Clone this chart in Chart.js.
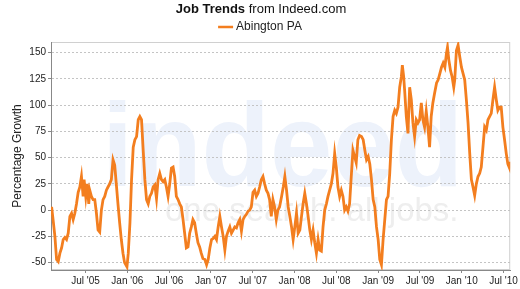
<!DOCTYPE html>
<html>
<head>
<meta charset="utf-8">
<script src="https://cdn.jsdelivr.net/npm/chart.js@4.4.1/dist/chart.umd.min.js"></script>
<style>
  html, body { margin: 0; padding: 0; background: #fff; }
</style>
</head>
<body>
<canvas id="myChart" width="520" height="289"></canvas>
<script>
// months since Jan 2005 (fractional) and percentage growth
var months = [
  1.05, 1.14, 1.38, 1.61, 1.85, 2.09, 2.33, 2.57, 2.80, 3.04, 3.28, 3.52,
  3.76, 4.00, 4.23, 4.47, 4.71, 4.95, 5.19, 5.42, 5.66, 5.80, 6.04, 6.23,
  6.47, 6.61, 6.85, 7.09, 7.33, 7.57, 7.80, 8.04, 8.28, 8.52, 8.76, 9.00,
  9.23, 9.47, 9.71, 9.95, 10.19, 10.42, 10.66, 10.90, 11.14, 11.38, 11.61, 11.95,
  12.14, 12.38, 12.61, 12.85, 13.09, 13.33, 13.57, 13.80, 14.04, 14.28,
  14.52, 14.76, 15.00, 15.23, 15.47, 15.71, 15.95, 16.19, 16.42, 16.66,
  16.90, 17.14, 17.38, 17.61, 17.85, 18.09, 18.33, 18.57, 18.80, 19.04,
  19.28, 19.52, 19.76, 20.00, 20.23, 20.47, 20.71, 20.95, 21.19, 21.42,
  21.66, 21.90, 22.14, 22.38, 22.61, 22.85,
  23.14, 23.38, 23.61, 23.85, 24.09, 24.33, 24.57, 24.80, 25.04, 25.28,
  25.52, 25.76, 26.00, 26.23, 26.47, 26.71, 26.95, 27.19, 27.42, 27.66,
  27.90, 28.14, 28.38, 28.61, 28.85, 29.09, 29.33, 29.57, 29.80, 30.04,
  30.28, 30.52, 30.76, 30.99, 31.23, 31.47, 31.71, 31.95, 32.19, 32.42,
  32.66, 32.90, 33.14, 33.38, 33.61, 33.85,
  34.14, 34.38, 34.61, 34.85, 35.09, 35.33, 35.57, 35.80, 36.04, 36.28,
  36.52, 36.76, 37.00, 37.23, 37.47, 37.71, 37.95, 38.19, 38.42, 38.66,
  38.90, 39.14, 39.38, 39.61, 39.85, 40.09, 40.33, 40.57, 40.80, 41.04,
  41.28, 41.52, 41.76, 41.99, 42.23, 42.47, 42.71, 42.95, 43.19, 43.42,
  43.66, 43.90, 44.14, 44.38, 44.61, 44.85,
  45.09, 45.33, 45.61, 45.85, 46.09, 46.33, 46.57, 46.80, 47.04, 47.28,
  47.52, 47.76, 48.00, 48.23, 48.47, 48.71, 48.95, 49.19, 49.42, 49.66,
  49.90, 50.14, 50.38, 50.61, 50.85, 51.09, 51.33, 51.47, 51.66, 51.80,
  52.04, 52.28, 52.52, 52.76, 52.99, 53.23, 53.47, 53.71, 53.95, 54.19,
  54.42, 54.66, 54.90, 55.14, 55.38, 55.61, 55.85, 56.09,
  56.38, 56.61, 56.85, 57.09, 57.33, 57.57, 57.80, 57.95, 58.14, 58.38,
  58.61, 58.85, 58.99, 59.23, 59.47, 59.71, 59.95, 60.19, 60.42, 60.66,
  60.90, 61.14, 61.38, 61.61, 61.85, 62.09, 62.33, 62.57, 62.80, 63.04,
  63.28, 63.52, 63.76, 63.99, 64.23, 64.47, 64.71, 64.95, 65.18, 65.42,
  65.66, 65.90, 66.14, 66.38, 66.61, 66.85, 66.95
];
var growth = [
  2, 3, -11, -25, -47, -49, -41, -36, -28, -26, -28, -22,
  -6, -3, -9, -3, 6, 17, 22, 32, 13, 29, 13, 25,
  6, 19, 13, 10, 10, -3, -19, -21, 0, 10, 13, 19,
  22, 25, 29, 48, 43, 25, 6, -12, -28, -41, -50, -54,
  -41, -12, 29, 60, 67, 70, 86, 89, 86, 57,
  29, 10, 6, 13, 16, 22, 24, 11, 29, 35,
  29, 27, 29, 22, 13, 25, 40, 41, 32, 13,
  10, 6, 3, -9, -22, -36, -35, -22, -16, -9,
  -12, -22, -31, -35, -41, -46,
  -47, -52, -47, -36, -28, -27, -25, -28, -16, -6,
  -16, -25, -38, -25, -20, -16, -22, -19, -16, -17,
  -12, -9, -20, -9, -6, -4, -1, 0, 3, 17,
  19, 13, 16, 22, 29, 32, 25, 19, 16, 10,
  -6, 10, 3, -9, 0, 3,
  13, 22, 32, 19, 3, -6, -16, -28, -16, -3,
  -22, -19, -6, 6, 16, 6, -6, -19, -28, -19,
  -31, -41, -28, -38, -39, -16, 0, 6, 13, 19,
  25, 35, 54, 41, 22, 13, 19, 13, 0, 3,
  -1, 6, 32, 57, 51, 45,
  67, 71, 70, 67, 57, 48, 51, 44, 29, 10,
  3, -16, -28, -47, -52, -28, -9, 10, 13, 35,
  67, 89, 95, 92, 98, 117, 127, 138, 127, 114,
  89, 73, 117, 105, 83, 70, 86, 83, 86, 102,
  86, 79, 94, 79, 60, 89, 102, 111,
  121, 124, 130, 136, 140, 136, 149, 155, 143, 133,
  127, 117, 124, 152, 157, 146, 136, 130, 124, 105,
  83, 54, 29, 22, 14, 25, 32, 35, 41, 60,
  79, 76, 86, 89, 92, 105, 117, 105, 95, 98,
  98, 79, 67, 54, 44, 40, 46
];
var tickMonths = [6, 12, 18, 24, 30, 36, 42, 48, 54, 60, 66];
var tickLabels = ["Jul '05", "Jan '06", "Jul '06", "Jan '07", "Jul '07", "Jan '08",
                  "Jul '08", "Jan '09", "Jul '09", "Jan '10", "Jul '10"];
var yTicks = [-50, -25, 0, 25, 50, 75, 100, 125, 150];
var seriesName = 'Abington PA';

var FONT = '"Liberation Sans", Arial, sans-serif';
var ORANGE = '#f37e1f';

var points = months.map(function (m, i) { return { x: m, y: growth[i] }; });

// faint indeed logo behind the plot + light frame
var backdrop = {
  id: 'backdrop',
  beforeDraw: function (chart) {
    var ctx = chart.ctx, a = chart.chartArea;
    ctx.save();
    ctx.fillStyle = '#edf2fb';
    ctx.font = 'bold 118px ' + FONT;
    ctx.translate(102, 186);
    ctx.scale(0.95, 1);
    ctx.fillText('indeed', 0, 0);
    ctx.restore();
    ctx.save();
    ctx.fillStyle = '#eeeeee';
    ctx.font = '33px ' + FONT;
    ctx.fillText('one search. all jobs.', 165, 221);
    ctx.strokeStyle = '#d0d0d0';
    ctx.lineWidth = 1;
    ctx.strokeRect(a.left + 0.5, a.top + 0.5, a.right - a.left - 1, a.bottom - a.top - 1);
    ctx.restore();
  }
};

// title with mixed weights and a small line legend
var header = {
  id: 'header',
  afterDraw: function (chart) {
    var ctx = chart.ctx, cx = chart.width / 2;
    ctx.save();
    ctx.textBaseline = 'middle';
    ctx.fillStyle = '#111';
    ctx.font = 'bold 13px ' + FONT;
    var t1 = 'Job Trends', w1 = ctx.measureText(t1).width;
    ctx.font = '13px ' + FONT;
    var t2 = ' from Indeed.com', w2 = ctx.measureText(t2).width;
    var x = cx + 1 - (w1 + w2) / 2;
    ctx.font = 'bold 13px ' + FONT;
    ctx.fillText(t1, x, 9);
    ctx.font = '13px ' + FONT;
    ctx.fillText(t2, x + w1, 9);

    var ds = chart.data.datasets[0];
    ctx.font = '12px ' + FONT;
    var tw = ctx.measureText(ds.label).width;
    var lx = cx - (15 + 3 + tw) / 2;
    ctx.strokeStyle = ds.borderColor;
    ctx.lineWidth = 2.5;
    ctx.beginPath();
    ctx.moveTo(lx, 27);
    ctx.lineTo(lx + 15, 27);
    ctx.stroke();
    ctx.fillStyle = '#222';
    ctx.fillText(ds.label, lx + 18, 27);
    ctx.restore();
  }
};

var ctx = document.getElementById('myChart').getContext('2d');
var myChart = new Chart(ctx, {
  type: 'line',
  data: {
    datasets: [{
      label: seriesName,
      data: points,
      borderColor: ORANGE,
      borderWidth: 2.8,
      pointRadius: 0,
      tension: 0,
      fill: false
    }]
  },
  options: {
    responsive: false,
    animation: false,
    devicePixelRatio: 1,
    layout: { padding: { top: 42, right: 8, bottom: 0, left: 0 } },
    plugins: {
      legend: { display: false },
      title: { display: false },
      tooltip: { enabled: false }
    },
    scales: {
      x: {
        type: 'linear',
        min: 1.05,
        max: 66.95,
        afterBuildTicks: function (s) {
          s.ticks = tickMonths.map(function (v) { return { value: v }; });
        },
        afterFit: function (s) { s.height = 19; },
        ticks: {
          autoSkip: false,
          maxRotation: 0,
          padding: 2,
          color: '#222',
          font: { family: FONT, size: 10 },
          callback: function (v, i) { return tickLabels[i]; }
        },
        grid: { drawOnChartArea: false, drawTicks: true, tickLength: 3, tickColor: '#888' },
        border: { color: '#888' }
      },
      y: {
        min: -57,
        max: 160,
        afterBuildTicks: function (s) {
          s.ticks = yTicks.map(function (v) { return { value: v }; });
        },
        afterFit: function (s) { s.width = 51; },
        ticks: {
          padding: 2,
          color: '#222',
          font: { family: FONT, size: 10 }
        },
        grid: { color: '#c4c4c4', tickLength: 3, tickColor: '#888' },
        border: { color: '#888', dash: [2, 2] },
        title: {
          display: true,
          text: 'Percentage Growth',
          color: '#222',
          font: { family: FONT, size: 12 },
          padding: { top: 10, bottom: 0 }
        }
      }
    }
  },
  plugins: [backdrop, header]
});
</script>
</body>
</html>
